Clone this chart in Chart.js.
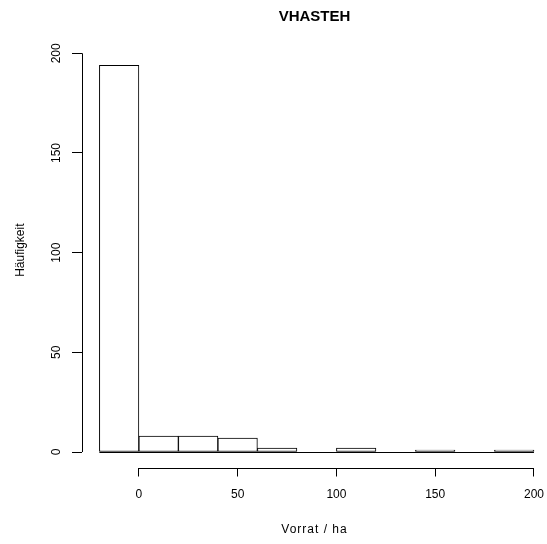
<!DOCTYPE html>
<html>
<head>
 <meta charset="UTF-8">
 <title>VHASTEH</title>
 <style>
  body { margin: 0; background: #ffffff; }
  canvas { display: block; }
 </style>
 <script src="https://cdn.jsdelivr.net/npm/chart.js@4.4.1/dist/chart.umd.min.js"></script>
</head>
<body>
 <canvas id="histChart" width="547" height="544"></canvas>
<script>
 // histogram bins: left edges, common width and counts
 var binStart = [-20, 0, 20, 40, 60, 80, 100, 120, 140, 160, 180];
 var binWidth = 20;
 var counts = [194, 8, 8, 7, 2, 0, 2, 0, 1, 0, 1];
 var xTicks = [0, 50, 100, 150, 200];
 var yTicks = [0, 50, 100, 150, 200];

 var mainTitle = 'VHASTEH';
 var xTitle = 'Vorrat / ha';
 var yTitle = 'Häufigkeit';

 var barData = [];
 for (var i = 0; i < binStart.length; i++)
 {
  barData.push({ x: binStart[i] + binWidth / 2, y: counts[i] });
 }

 var fontFamily = '"Liberation Sans", Arial, sans-serif';
 var tickLen = 10;

 // base-graphics look: axis lines only from first to last tick, baseline below the bars,
 // vertical y tick labels, titles centred on the plot region
 var baseAxes = {
  id: 'baseAxes',
  afterDatasetsDraw: function(chart)
  {
   var ctx = chart.ctx, xs = chart.scales.x, ys = chart.scales.y, area = chart.chartArea;
   var left = Math.round(area.left) + 0.5;
   var bottom = Math.round(area.bottom) + 0.5;
   var y0 = Math.round(ys.getPixelForValue(0)) + 0.5;
   var midX = (area.left + area.right) / 2;
   ctx.save();
   ctx.strokeStyle = '#000';
   ctx.lineWidth = 1;
   ctx.beginPath();
   ctx.moveTo(xs.getPixelForValue(binStart[0]), y0);
   ctx.lineTo(xs.getPixelForValue(binStart[binStart.length - 1] + binWidth), y0);
   ctx.moveTo(left, ys.getPixelForValue(yTicks[0]));
   ctx.lineTo(left, ys.getPixelForValue(yTicks[yTicks.length - 1]));
   ctx.moveTo(xs.getPixelForValue(xTicks[0]), bottom);
   ctx.lineTo(xs.getPixelForValue(xTicks[xTicks.length - 1]), bottom);
   ctx.stroke();

   ctx.fillStyle = '#000';
   ctx.textAlign = 'center';
   ctx.textBaseline = 'middle';
   ctx.font = '12px ' + fontFamily;
   for (var k = 0; k < yTicks.length; k++)
   {
    ctx.save();
    ctx.translate(area.left - tickLen - 15.5, ys.getPixelForValue(yTicks[k]));
    ctx.rotate(-Math.PI / 2);
    ctx.fillText(String(yTicks[k]), 0, 0);
    ctx.restore();
   }

   // axis titles
   ctx.save();
   ctx.translate(21, (area.top + area.bottom) / 2 - 8.5);
   ctx.rotate(-Math.PI / 2);
   ctx.fillText(yTitle, 0, 0);
   ctx.restore();

   ctx.save();
   ctx.letterSpacing = '1px';
   ctx.fillText(xTitle, midX, area.bottom + 62);
   ctx.restore();

   // main title
   ctx.font = 'bold 15px ' + fontFamily;
   ctx.fillText(mainTitle, midX, 16.5);
   ctx.restore();
  }
 };

 Chart.defaults.font.family = fontFamily;
 Chart.defaults.font.size = 12;
 Chart.defaults.color = '#000';

 var ctx = document.getElementById("histChart");
 var histChart = new Chart(ctx, {
  type: 'bar',
  data: {
   datasets: [ { data: barData, backgroundColor: '#ffffff', borderColor: '#000000',
                 borderWidth: 1, borderSkipped: false, barPercentage: 1, categoryPercentage: 1 } ]
  },
  options: {
   responsive: false,
   animation: false,
   layout: { padding: { top: 49.8, left: 0, right: 0, bottom: 0 } },
   plugins: {
    legend: { display: false },
    tooltip: { enabled: false },
    title: { display: false }
   },
   scales: {
    x: {
     type: 'linear', min: -28.8, max: 206.6, offset: false,
     afterBuildTicks: function(s) { s.ticks = xTicks.map(function(v) { return { value: v }; }); },
     afterFit: function(s) { s.height = 76.5; s.paddingLeft = 0; s.paddingRight = 0; },
     border: { display: false },
     grid: { offset: false, drawOnChartArea: false, drawTicks: true, tickLength: 9, color: '#000' },
     ticks: { padding: 11, maxRotation: 0, autoSkip: false }
    },
    y: {
     min: -7.76, max: 201.76,
     afterBuildTicks: function(s) { s.ticks = yTicks.map(function(v) { return { value: v }; }); },
     afterFit: function(s) { s.width = 82; s.paddingTop = 0; s.paddingBottom = 0; },
     border: { display: false },
     grid: { drawOnChartArea: false, drawTicks: true, tickLength: tickLen, color: '#000' },
     ticks: { display: false }
    }
   }
  },
  plugins: [baseAxes]
 });
</script>
</body>
</html>
